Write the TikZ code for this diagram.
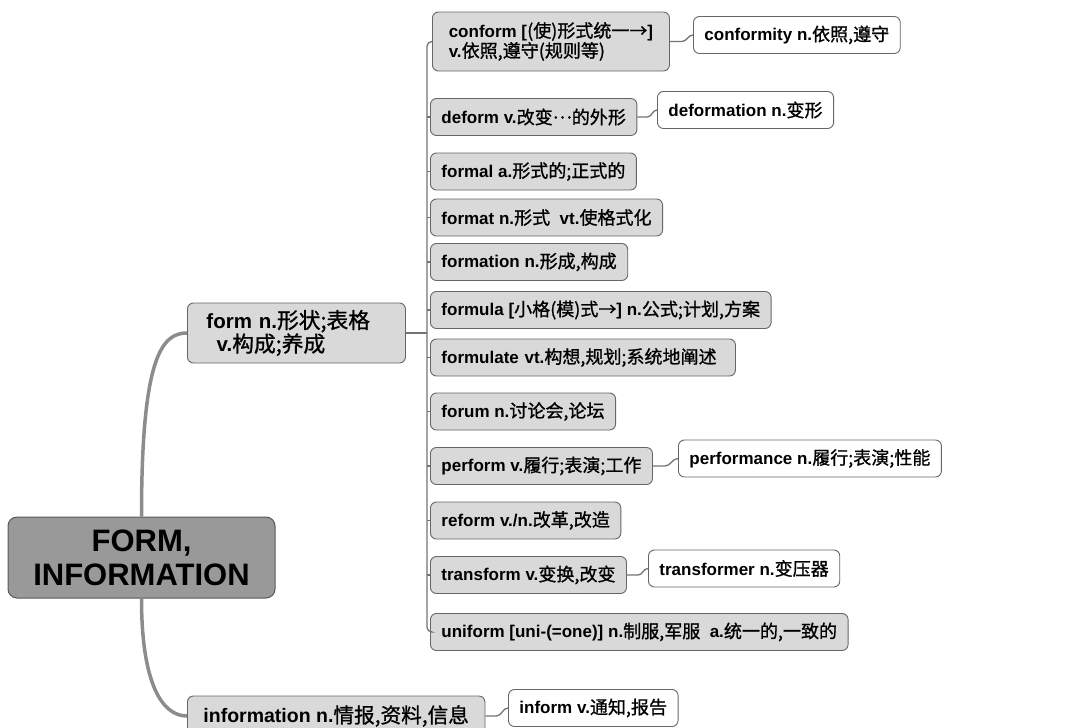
\documentclass[tikz,border=0pt]{standalone}
\usepackage{fontspec}
\setmainfont{Liberation Sans}
\newfontfamily\cjk{Noto Sans CJK SC}[Scale=1.06, FakeBold=1]
\newcommand{\zh}[1]{{\cjk\mdseries #1}}
\usetikzlibrary{calc}

\begin{document}
\begin{tikzpicture}[x=1pt, y=1pt,
    rootbox/.style={rounded corners=9pt, draw=gray!70!black, fill=gray!80, line width=1pt,
      font=\fontsize{31}{34}\selectfont\bfseries, align=center,
      minimum width=267pt, minimum height=81pt},
    topicbox/.style={rounded corners=6pt, draw=gray!80!black, fill=gray!30, line width=0.9pt,
      font=\fontsize{17}{20}\selectfont\bfseries, align=left, anchor=west,
      inner xsep=11pt, minimum height=37pt},
    leafbox/.style={topicbox, fill=white},
    trunk/.style={draw=gray!90, line width=3.5pt},
    branch/.style={draw=gray!90!black, line width=1.3pt}]
  \useasboundingbox (0,0) rectangle (1066,-728);

  \node[rootbox] (root) at (141.5,-557.5) {FORM,\\INFORMATION};

  \node[topicbox, font=\fontsize{20.5}{22}\selectfont\bfseries, text width=180pt,
    minimum height=60pt, inner xsep=19pt] (form) at (187,-333)
    {form n.\zh{形状;表格}\\\hspace*{0.5em}v.\zh{构成;养成}};
  \node[topicbox, font=\fontsize{19.5}{22}\selectfont\bfseries, inner xsep=16pt,
    minimum height=40pt] (information) at (187,-716) {information n.\zh{情报,资料,信息}};
  \node[leafbox] (inform) at (508,-708) {inform v.\zh{通知,报告}};

  % words built on form
  \node[topicbox, minimum height=59pt, minimum width=237pt] (conform) at (432,-41.5)
    {conform [\zh{(使)形式统一→}]\\v.\zh{依照,遵守(规则等)}};
  \node[topicbox] (deform) at (430,-117) {deform v.\zh{改变\raisebox{0.3em}{…}的外形}};
  \node[topicbox] (formal) at (430,-171.5) {formal a.\zh{形式的;正式的}};
  \node[topicbox] (format) at (430,-217.5) {format n.\zh{形式}\ \ vt.\zh{使格式化}};
  \node[topicbox] (formation) at (430,-262) {formation n.\zh{形成,构成}};
  \node[topicbox] (formula) at (430,-310) {formula [\zh{小格(模)式→}] n.\zh{公式;计划,方案}};
  \node[topicbox, text width=283pt] (formulate) at (430,-357.5) {formulate vt.\zh{构想,规划;系统地阐述}};
  \node[topicbox] (forum) at (430,-411.5) {forum n.\zh{讨论会,论坛}};
  \node[topicbox] (perform) at (430,-466) {perform v.\zh{履行;表演;工作}};
  \node[topicbox] (reform) at (430,-520.5) {reform v./n.\zh{改革,改造}};
  \node[topicbox] (transform) at (430,-575) {transform v.\zh{变换,改变}};
  \node[topicbox] (uniform) at (430,-632) {uniform [uni-(=one)] n.\zh{制服,军服}\ \ a.\zh{统一的,一致的}};

  \node[leafbox] (conformity) at (693,-35) {conformity n.\zh{依照,遵守}};
  \node[leafbox] (deformation) at (657,-110) {deformation n.\zh{变形}};
  \node[leafbox] (performance) at (678,-458.5) {performance n.\zh{履行;表演;性能}};
  \node[leafbox] (transformer) at (648,-568.5) {transformer n.\zh{变压器}};

  % main branches
  \draw[trunk] (root.north) .. controls +(0,160) and +(-25,0) .. (form.west);
  \draw[trunk] (root.south) .. controls +(0,-85) and +(-25,0) .. (information.west);

  % bus to the children
  \draw[branch] (form.east) -- ++(21,0) coordinate (bus);
  \draw[branch, rounded corners=5pt] (conform.west) -- (bus |- conform.west)
    -- (bus |- uniform.west) -- (uniform.west);
  \foreach \w in {deform, formal, format, formation, formula, formulate, forum, perform, reform, transform}
    \draw[branch] (bus |- \w.west) -- (\w.west);

  % derived words
  \draw[branch] (conform.east) -- ++(12,0) to[out=0, in=180] (conformity.west);
  \draw[branch] (deform.east) -- ++(10,0) to[out=0, in=180] (deformation.west);
  \draw[branch] (perform.east) -- ++(12,0) to[out=0, in=180] (performance.west);
  \draw[branch] (transform.east) -- ++(11,0) to[out=0, in=180] (transformer.west);
  \draw[branch] (information.east) -- ++(11,0) to[out=0, in=180] (inform.west);
\end{tikzpicture}
\end{document}
